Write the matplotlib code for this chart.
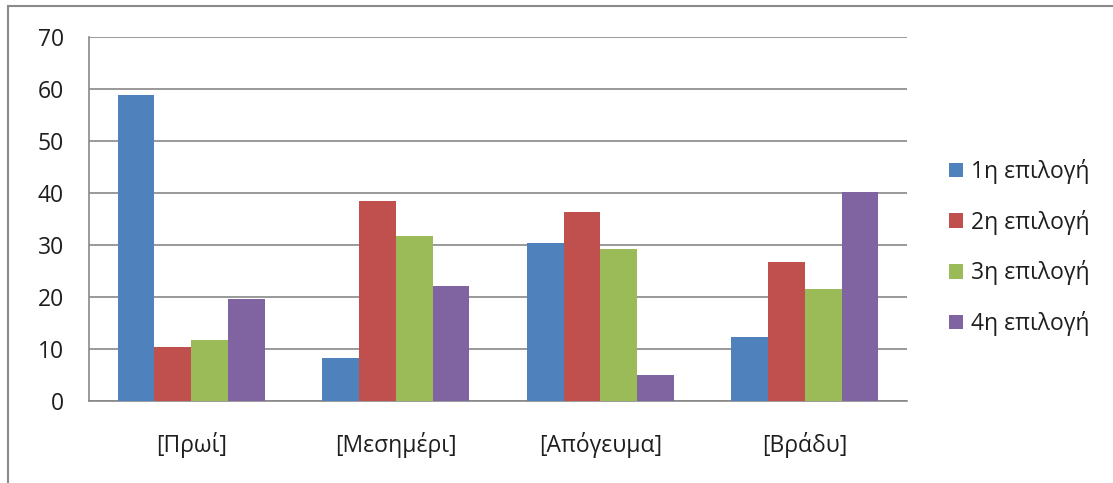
import numpy as np
import matplotlib.pyplot as plt
from matplotlib.patches import Rectangle

plt.rcParams['font.family'] = ['Open Sans', 'DejaVu Sans']

# data
categories = ['[Πρωί]', '[Μεσημέρι]', '[Απόγευμα]', '[Βράδυ]']
series_names = ['1η επιλογή', '2η επιλογή', '3η επιλογή', '4η επιλογή']
first = [58.7, 8.3, 30.3, 12.2]
second = [10.4, 38.4, 36.3, 26.7]
third = [11.7, 31.6, 29.1, 21.5]
fourth = [19.6, 22.1, 4.9, 40.1]
colors = ['#4F81BD', '#C0504D', '#9BBB59', '#8064A2']

values = [first, second, third, fourth]

fig = plt.figure(figsize=(11.13, 4.83), dpi=100)
ax = fig.add_axes([0.080, 0.170, 0.735, 0.754])

x = np.arange(len(categories))
w = 0.18
for i, (vals, name, c) in enumerate(zip(values, series_names, colors)):
    ax.bar(x + (i - 1.5) * w, vals, width=w, color=c, label=name, zorder=3)

ax.set_xlim(-0.5, len(categories) - 0.5)
ax.set_ylim(0, 70)
ax.set_yticks(np.arange(0, 71, 10))
ax.set_xticks(x)
ax.set_xticklabels(categories)
ax.yaxis.grid(True, color='#878787', linewidth=1.2, zorder=0)
ax.set_axisbelow(True)

for s in ['top', 'right']:
    ax.spines[s].set_visible(False)
ax.spines['left'].set_color('#878787')
ax.spines['bottom'].set_color('#878787')
ax.spines['left'].set_linewidth(1.2)
ax.spines['bottom'].set_linewidth(1.2)

ax.tick_params(axis='y', length=0, pad=18, labelsize=16.5, colors='#1e1e1e')
ax.tick_params(axis='x', length=0, pad=22.5, labelsize=16.5, colors='#1e1e1e')

leg = ax.legend(loc='center left', bbox_to_anchor=(0.853, 0.4876),
                bbox_transform=fig.transFigure, frameon=False,
                borderpad=0, borderaxespad=0,
                fontsize=16.5, handlelength=0.6, handleheight=0.6,
                handletextpad=0.35, labelspacing=1.12)
for t in leg.get_texts():
    t.set_color('#1e1e1e')

# outer chart frame
fig.patches.append(Rectangle((0.007, -0.1), 1.1, 1.0876, transform=fig.transFigure,
                             fill=False, edgecolor='#8a8a8a', linewidth=1.5))

fig.savefig('out.png', dpi=100)
